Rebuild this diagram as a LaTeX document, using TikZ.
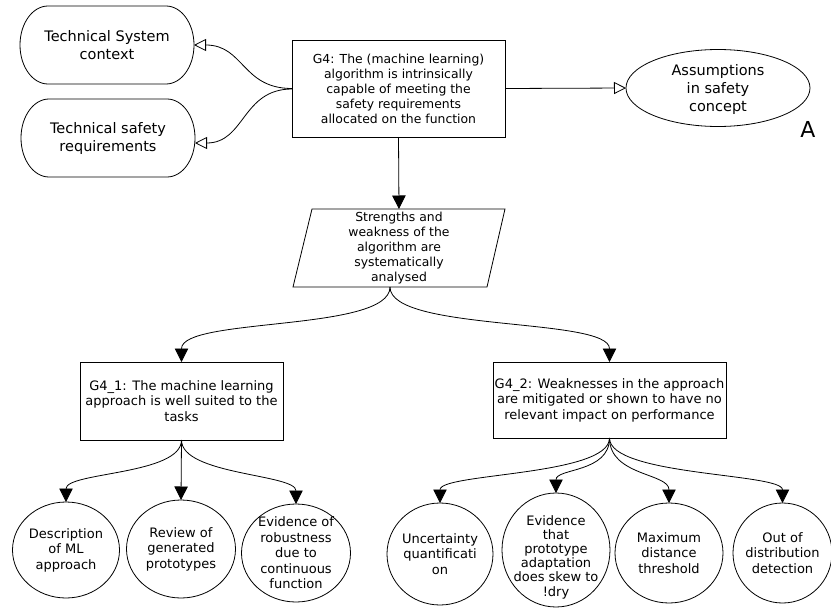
\documentclass[tikz,border=0pt]{standalone}
\usepackage{fontspec}
\setmainfont{DejaVu Sans}
\usetikzlibrary{arrows.meta,shapes.geometric,calc}
\begin{document}
\begin{tikzpicture}[x=1pt,y=-1pt,
  base/.style={inner sep=0pt, outer sep=0pt, align=center, line width=0.8pt},
  ctx/.style={base, rectangle, minimum width=174pt, minimum height=78pt, font=\fontsize{14.5}{18}\selectfont},
  goalbox/.style={base, draw, rectangle},
  gfont/.style={font=\fontsize{12.4}{15}\selectfont},
  sfont/.style={font=\fontsize{13}{15.5}\selectfont},
  solshape/.style={base, draw, ellipse},
  soltext/.style={base, sfont},
  outline/.style={line width=0.8pt},
  link/.style={line width=0.8pt, -{Triangle[length=13.5pt,width=13.5pt]}},
  ctxlink/.style={line width=0.8pt, -{Triangle[open,length=12pt,width=12pt]}}
]
\useasboundingbox (0,0) rectangle (831,608);

% context nodes (elliptically rounded boxes)
\node[ctx] (tsc) at (107,45) {Technical System\\context};
\node[ctx] (tsr) at (108,138) {Technical safety\\requirements};
\foreach \n in {tsc,tsr}{
  \draw[outline] ($(\n.north west)+(28,0)$) -- ($(\n.north east)+(-28,0)$)
    arc[start angle=-90, end angle=90, x radius=28, y radius=39]
    -- ($(\n.south west)+(28,0)$)
    arc[start angle=90, end angle=270, x radius=28, y radius=39] -- cycle;
}

% top goal
\node[goalbox, gfont, minimum width=213pt, minimum height=97pt] (g4) at (398.5,88.5)
  {G4: The (machine learning)\\algorithm is intrinsically\\capable of meeting the\\safety requirements\\allocated on the function};

% assumption
\node[solshape, minimum width=184pt, minimum height=77pt] (asm) at (718,88) {};
\node[base, font=\fontsize{14.5}{18}\selectfont] (asmt) at ($(asm)+(0,1.5)$) {Assumptions\\in safety\\concept};
\node[base, font=\fontsize{22}{22}\selectfont] (lblA) at (808,129) {A};

% strategy (parallelogram)
\node[base, gfont, minimum width=212pt, minimum height=78pt] (p) at (399,248)
  {Strengths and\\weakness of the\\algorithm are\\systematically\\analysed};
\draw[outline] ($(p.north west)+(19,0)$) -- (p.north east) -- ($(p.south east)+(-18,0)$) -- (p.south west) -- cycle;
\coordinate (pbot) at ($(p.south)+(-9,0)$);

% sub-goals
\node[goalbox, sfont, minimum width=203pt, minimum height=78pt] (g41) at (181.5,401)
  {G4\_1: The machine learning\\approach is well suited to the\\tasks};
\node[goalbox, sfont, minimum width=233pt, minimum height=76pt] (g42) at (609.5,400)
  {G4\_2: Weaknesses in the approach\\are mitigated or shown to have no\\relevant impact on performance};

% solutions left
\node[solshape, minimum width=107pt, minimum height=96pt] (c1) at (66,550) {};
\node[soltext] (c1t) at (c1) {Description\\of ML\\approach};
\node[solshape, minimum width=109pt, minimum height=98pt] (c2) at (181,549) {};
\node[soltext] (c2t) at (c2) {Review of\\generated\\prototypes};
\node[solshape, minimum width=109pt, minimum height=98pt] (c3) at (296,553) {};
\node[soltext] (c3t) at (c3) {Evidence of\\robustness\\due to\\continuous\\function};

% solutions right
\node[solshape, minimum width=106pt, minimum height=102pt] (c4) at (440,554) {};
\node[soltext] (c4t) at (c4) {Uncertainty\\quantificati\\on};
\node[solshape, minimum width=108pt, minimum height=114pt] (c5) at (556,550) {};
\node[soltext, font=\fontsize{13}{14.2}\selectfont] (c5t) at ($(c5)+(0,7)$) {Evidence\\that\\prototype\\adaptation\\does skew to\\!dry};
\node[solshape, minimum width=108pt, minimum height=100pt] (c6) at (669,553) {};
\node[soltext] (c6t) at (c6) {Maximum\\distance\\threshold};
\node[solshape, minimum width=99pt, minimum height=100pt] (c7) at (782.5,553) {};
\node[soltext] (c7t) at (c7) {Out of\\distribution\\detection};

% connectors
\draw[ctxlink] (g4.west) .. controls +(-50,0) and +(50,0) .. (tsc.east);
\draw[ctxlink] ($(g4.west)+(0,0.5)$) .. controls +(-50,0) and +(50,0) .. ($(tsr.east)+(0,5)$);
\draw[ctxlink] (g4.east) -- (asm.west);
\draw[link] (g4.south) -- (p.north);

\draw[link] (pbot) .. controls +(0,45) and +(0,-45) .. (g41.north);
\draw[link] (pbot) .. controls +(0,45) and +(0,-45) .. (g42.north);

\draw[link] (g41.south) .. controls +(0,35) and +(0,-30) .. (c1.north);
\draw[link] (g41.south) -- (c2.north);
\draw[link] (g41.south) .. controls +(0,35) and +(0,-30) .. (c3.north);

\draw[link] (g42.south) .. controls +(0,38) and +(0,-30) .. (c4.north);
\draw[link] (g42.south) .. controls +(0,35) and +(0,-25) .. (c5.north);
\draw[link] (g42.south) .. controls +(0,38) and +(0,-30) .. (c6.north);
\draw[link] (g42.south) .. controls +(0,38) and +(0,-30) .. (c7.north);
\end{tikzpicture}
\end{document}
